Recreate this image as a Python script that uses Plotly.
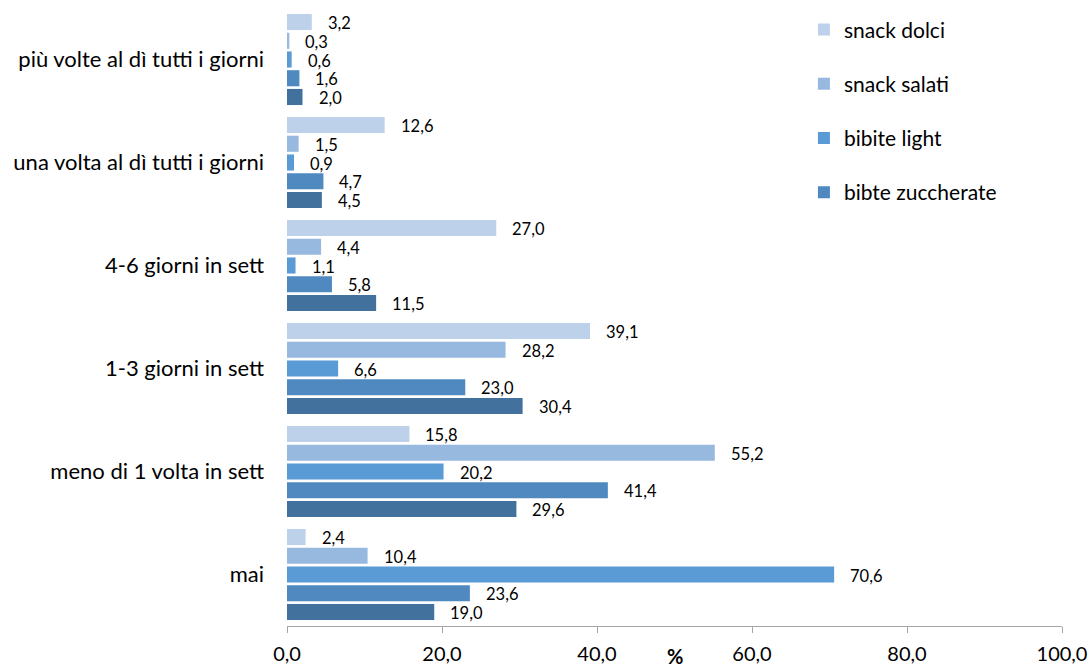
import plotly.graph_objects as go

# Frequency categories, listed top to bottom
categories = [
    "più volte al dì tutti i giorni",
    "una volta al dì tutti i giorni",
    "4-6 giorni in sett",
    "1-3 giorni in sett",
    "meno di 1 volta in sett",
    "mai",
]

# Percent values per series, same order as categories
snack_dolci = [3.2, 12.6, 27.0, 39.1, 15.8, 2.4]
snack_salati = [0.3, 1.5, 4.4, 28.2, 55.2, 10.4]
bibite_light = [0.6, 0.9, 1.1, 6.6, 20.2, 70.6]
bibite_zuccherate = [1.6, 4.7, 5.8, 23.0, 41.4, 23.6]
serie_5 = [2.0, 4.5, 11.5, 30.4, 29.6, 19.0]

x_ticks = [0, 20, 40, 60, 80, 100]

FONT = "Lato, Carlito, 'Open Sans', sans-serif"
BARGAP = 0.09

# Drawn top-down inside each group (y axis runs downward)
series = [
    ("snack dolci", snack_dolci, "#bed1eb", True),
    ("snack salati", snack_salati, "#98b9df", True),
    ("bibite light", bibite_light, "#5b9bd5", True),
    ("bibte zuccherate", bibite_zuccherate, "#4f89bf", True),
    ("serie 5", serie_5, "#41719c", False),
]

fig = go.Figure()
for i, (name, vals, color, show) in enumerate(series):
    fig.add_trace(go.Bar(
        y=categories, x=vals, name=name, orientation="h",
        marker=dict(color=color, line=dict(width=0)),
        showlegend=show, legendgroup=name,
        offsetgroup=str(i),
    ))

# value labels placed just right of each bar end
n = len(series)
annotations = []
slot = (1 - BARGAP) / n
for i, (name, vals, color, show) in enumerate(series):
    for j, v in enumerate(vals):
        ypos = j - (1 - BARGAP) / 2 + slot * (i + 0.5)
        annotations.append(dict(
            x=v, y=ypos, xref="x", yref="y", text=f"{v:.1f}".replace(".", ","),
            showarrow=False, xanchor="left", yanchor="middle", xshift=14, yshift=-1,
            font=dict(size=16.5, color="#000000", family=FONT),
        ))

annotations.append(dict(
    x=0.5, y=0.0, xref="paper", yref="paper", yshift=-30, text="<b>%</b>",
    showarrow=False, xanchor="center", yanchor="middle",
    font=dict(size=20, color="#000000", family=FONT),
))

fig.update_layout(
    width=1091, height=668,
    margin=dict(l=287, r=29, t=8, b=42, autoexpand=False),
    paper_bgcolor="white", plot_bgcolor="white",
    barmode="group", bargap=BARGAP, bargroupgap=0.14,
    separators=",.",
    font=dict(family=FONT, size=21, color="#000000"),
    legend=dict(
        x=0.667, y=0.998, xanchor="left", yanchor="top",
        xref="paper", yref="paper",
        traceorder="grouped", tracegroupgap=24,
        font=dict(size=21, family=FONT, color="#000000"),
        bgcolor="rgba(0,0,0,0)",
    ),
    annotations=annotations,
)

fig.update_xaxes(
    range=[0, 100], tickvals=x_ticks, tickformat=".1f",
    showgrid=False, zeroline=False,
    showline=True, linecolor="#a6a6a6", linewidth=1,
    ticks="outside", ticklen=6, tickcolor="#a6a6a6",
    ticklabelstandoff=4,
    tickfont=dict(size=20, family=FONT, color="#000000"),
)
fig.update_yaxes(
    range=[5.5, -0.5], showgrid=False, zeroline=False, showline=False,
    ticks="", ticklabelstandoff=22,
    tickfont=dict(size=22, family=FONT, color="#000000"),
)

fig.write_html("out.html")
